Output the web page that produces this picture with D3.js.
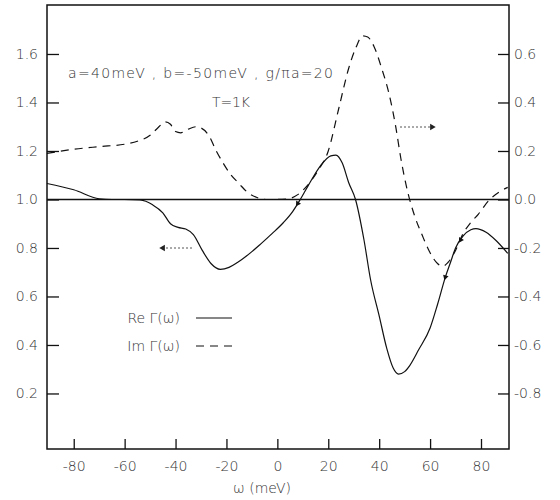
<!DOCTYPE html>
<html>
<head>
<meta charset="utf-8">
<script src="https://cdn.jsdelivr.net/npm/d3@7"></script>
<style>
  body { margin: 0; background: #fff; }
  text { font-family: "DejaVu Sans", sans-serif; font-weight: 200; fill: #333; }
</style>
</head>
<body>
<svg id="chart" width="560" height="500"></svg>
<script>
// omega (meV) and Re Gamma (left axis)
const reOmega = [-90.5, -80, -70, -65, -60, -54, -49, -45, -42, -39, -36, -33, -29.5, -26, -22.4, -19, -15.7, -10, -6.7, -2, 2.4, 6, 9, 12, 17, 21, 23, 25.5, 28, 30.7, 34, 36.6, 40, 43, 45.5, 47.6, 50, 52, 55.5, 60, 63, 66, 68, 70, 73, 76, 78, 82, 86, 90.5];
const reGamma = [1.066, 1.04, 1.003, 1.0, 1.0, 0.998, 0.978, 0.945, 0.9, 0.885, 0.878, 0.855, 0.79, 0.735, 0.712, 0.72, 0.74, 0.785, 0.815, 0.86, 0.905, 0.95, 1.0, 1.055, 1.14, 1.18, 1.183, 1.15, 1.07, 1.0, 0.835, 0.67, 0.52, 0.385, 0.305, 0.28, 0.29, 0.315, 0.38, 0.47, 0.57, 0.68, 0.74, 0.8, 0.85, 0.875, 0.88, 0.865, 0.83, 0.778];

// omega and Im Gamma (right axis)
const imOmega = [-90.5, -80, -70, -60, -55, -50, -47, -44, -42, -40, -38, -35, -32, -30, -27, -24, -21, -18.5, -15, -12, -8, -4, 0, 4, 8, 12, 16, 20, 24, 28, 31, 33.5, 35.5, 38, 41, 44, 46.5, 48.5, 51, 54, 57, 60, 63, 65, 67, 70, 73, 76, 79, 83, 87, 90.5];
const imGamma = [0.19, 0.207, 0.218, 0.228, 0.24, 0.265, 0.295, 0.32, 0.31, 0.28, 0.275, 0.29, 0.3, 0.295, 0.265, 0.2, 0.145, 0.105, 0.065, 0.032, 0.008, 0.0, 0.0, 0.002, 0.02, 0.06, 0.12, 0.2, 0.37, 0.54, 0.63, 0.675, 0.67, 0.63, 0.54, 0.43, 0.3, 0.17, 0.04, -0.07, -0.15, -0.22, -0.265, -0.275, -0.26, -0.21, -0.14, -0.095, -0.06, -0.005, 0.03, 0.05];

const xTicks = [-80, -60, -40, -20, 0, 20, 40, 60, 80];
const leftTicks = [0.2, 0.4, 0.6, 0.8, 1.0, 1.2, 1.4, 1.6];
const rightTicks = [-0.8, -0.6, -0.4, -0.2, 0.0, 0.2, 0.4, 0.6];
const markOmega = [8, 66, 72]; // little arrowheads sitting on the curves

const mLeft = 47, mRight = 509, mTop = 5, mBottom = 449;
const svg = d3.select("#chart");

const x = d3.scaleLinear().domain([-90.5, 91]).range([mLeft, mRight]);
const yL = d3.scaleLinear().domain([-0.029, 1.802]).range([mBottom, mTop]);
const yR = d3.scaleLinear().domain([-1.029, 0.802]).range([mBottom, mTop]);

const fmt = d => d.toFixed(1);

// axes, ticks pointing inward
const gl = svg.append("g").attr("transform", `translate(${mLeft},0)`)
    .call(d3.axisLeft(yL).tickValues(leftTicks).tickSize(-12).tickPadding(9).tickFormat(fmt));
const gr = svg.append("g").attr("transform", `translate(${mRight},0)`)
    .call(d3.axisRight(yR).tickValues(rightTicks).tickSize(-11).tickPadding(5).tickFormat(fmt));
const gb = svg.append("g").attr("transform", `translate(0,${mBottom})`)
    .call(d3.axisBottom(x).tickValues(xTicks).tickSize(-10).tickPadding(12).tickFormat(d => String(d)));

[gl, gr, gb].forEach(g => {
    g.select(".domain").remove();
    g.selectAll(".tick line").attr("stroke", "#111").attr("stroke-width", 1.3);
    g.selectAll(".tick text").style("font-size", "14px").attr("fill", "#444")
        .style("font-family", "DejaVu Sans").style("font-weight", 200);
});

// frame
svg.append("rect")
    .attr("x", mLeft).attr("y", mTop)
    .attr("width", mRight - mLeft).attr("height", mBottom - mTop)
    .attr("fill", "none").attr("stroke", "#111").attr("stroke-width", 1.5);

// reference line at 1.0 / 0.0
svg.append("line")
    .attr("x1", mLeft).attr("x2", mRight)
    .attr("y1", yL(1)).attr("y2", yL(1))
    .attr("stroke", "#111").attr("stroke-width", 1.5);

const reLine = d3.line().x(d => x(d[0])).y(d => yL(d[1])).curve(d3.curveMonotoneX);
const imLine = d3.line().x(d => x(d[0])).y(d => yR(d[1])).curve(d3.curveMonotoneX);

svg.append("path")
    .datum(d3.zip(reOmega, reGamma))
    .attr("d", reLine)
    .attr("fill", "none").attr("stroke", "#111").attr("stroke-width", 1.2);

svg.append("path")
    .datum(d3.zip(imOmega, imGamma))
    .attr("d", imLine)
    .attr("fill", "none").attr("stroke", "#111").attr("stroke-width", 1.2)
    .attr("stroke-dasharray", "8,6");

// small arrowheads on the solid curve
const reAt = w => d3.scaleLinear().domain(reOmega).range(reGamma)(w);
svg.append("g").selectAll("path")
    .data(markOmega)
    .join("path")
    .attr("d", d3.symbol(d3.symbolTriangle, 14))
    .attr("transform", w => {
        const x0 = x(w - 1), y0 = yL(reAt(w - 1)), x1 = x(w + 1), y1 = yL(reAt(w + 1));
        const a = Math.atan2(y1 - y0, x1 - x0) * 180 / Math.PI;
        return `translate(${x(w)},${yL(reAt(w))}) rotate(${a - 90})`;
    })
    .attr("fill", "#111");

// annotations
svg.append("text").attr("x", 68).attr("y", 78)
    .attr("textLength", 265).attr("lengthAdjust", "spacing")
    .style("font-size", "14px")
    .text("a=40meV , b=-50meV , g/πa=20");
svg.append("text").attr("x", 212).attr("y", 107)
    .attr("textLength", 38).attr("lengthAdjust", "spacing")
    .style("font-size", "14px")
    .text("T = 1 K");

// dotted pointer arrows
function pointer(x1, x2, y) {
    svg.append("line").attr("x1", x1).attr("x2", x2).attr("y1", y).attr("y2", y)
        .attr("stroke", "#555").attr("stroke-width", 1).attr("stroke-dasharray", "2,2");
    const dir = x2 > x1 ? 90 : -90;
    svg.append("path").attr("d", d3.symbol(d3.symbolTriangle, 18))
        .attr("transform", `translate(${x2},${y}) rotate(${dir})`).attr("fill", "#222");
}
pointer(400, 432, 127);
pointer(192, 163, 248);

// legend
const legend = [["Re Γ(ω)", null, 318], ["Im Γ(ω)", "8,6", 346]];
legend.forEach(([label, dash, ly]) => {
    svg.append("text").attr("x", 180).attr("y", ly + 5).attr("text-anchor", "end")
        .style("font-size", "14px").text(label);
    svg.append("line").attr("x1", 196).attr("x2", 232).attr("y1", ly).attr("y2", ly)
        .attr("stroke", "#111").attr("stroke-width", 1.1)
        .attr("stroke-dasharray", dash);
});

// x axis title
svg.append("text").attr("x", 262).attr("y", 493).attr("text-anchor", "middle")
    .style("font-size", "14px").text("ω  (meV)");
</script>
</body>
</html>
